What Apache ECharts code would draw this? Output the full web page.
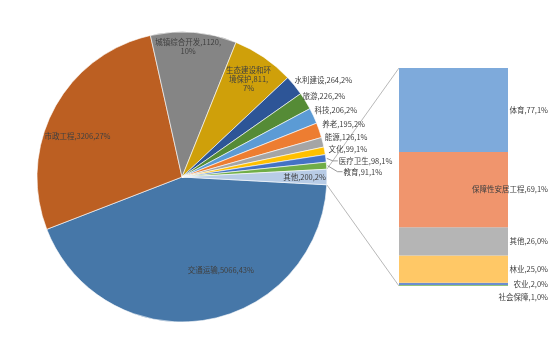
<!DOCTYPE html>
<html><head><meta charset="utf-8">
<script src="https://cdn.jsdelivr.net/npm/echarts@6/dist/echarts.min.js"></script>
<style>html,body{margin:0;padding:0;background:#fff}#c{width:550px;height:356px}</style>
</head><body><div id="c"></div>
<script>
// ---- data ----
const pieNames = ['交通运输','市政工程','城镇综合开发','生态建设和环境保护','水利建设','旅游','科技','养老','能源','文化','医疗卫生','教育','其他'];
const pieValues = [5066,3206,1120,811,264,226,206,195,126,99,98,91,200];
const subNames = ['社会保障','农业','林业','其他','保障性安居工程','体育'];
const subValues = [1,2,25,26,69,77];

// ---- style ----
const pieColors = ['#4677A8','#BC5F22','#858585','#CFA00A','#2D5597','#558B36','#5B9BD5','#ED7D31','#A5A5A5','#FFC000','#4472C4','#70AD47','#B8CCE6'];
const subColors = ['#93C47D','#6C8ED0','#FFC866','#B5B5B5','#F0956D','#7EAADB'];
const insideIdx = [0,1,2,3,12];
const labelOffsets = [[27,19],[-38,-5],[0,-55],[24,-35],[0,-5],[-3,-5],[1,-6],[3,-6],[2,-5],[4,-2],[13,2.5],[17,6],[47,0]];
const leaderIdx = [10,11];
const labelBreaks = {2:[12],3:[6,14]};
const cx = 182, cy = 177, R = 145;
const FONT = '"Noto Sans CJK SC","Noto Sans",sans-serif';
const TXT = '#404040';

const total = pieValues.reduce((a,b)=>a+b,0);
const subTotal = subValues.reduce((a,b)=>a+b,0);
const otherAngle = pieValues[pieValues.length-1]/total*360;
const startAngle = -otherAngle/2;

function pieLabel(i){
  const pct = Math.round(pieValues[i]/total*100);
  let s = pieNames[i]+','+pieValues[i]+','+pct+'%';
  const br = labelBreaks[i];
  if (br) for (let k=br.length-1;k>=0;k--) s = s.slice(0,br[k])+'\n'+s.slice(br[k]);
  return s;
}

const pieData = pieNames.map((n,i)=>{
  const inside = insideIdx.indexOf(i) >= 0;
  return {
    name: n, value: pieValues[i],
    itemStyle: {color: pieColors[i]},
    label: {
      position: inside ? 'inside' : 'outside',
      formatter: pieLabel(i),
      offset: labelOffsets[i],
      align: inside ? 'center' : 'left'
    },
    labelLine: {show:false, length:0, length2:0}
  };
});

const chart = echarts.init(document.getElementById('c'), null, {renderer:'canvas'});

const barSeries = subNames.map((n,i)=>({
  type:'bar', name:n, stack:'s', barWidth:'100%',
  data:[subValues[i]],
  itemStyle:{color: subColors[i]},
  label:{
    show:true, position:[149,'50%'], align:'right', verticalAlign:'middle',
    offset: n==='社会保障' ? [0,12] : [0,0],
    fontFamily: FONT, fontSize:7.5, color: TXT,
    formatter: n+','+subValues[i]+','+Math.round(subValues[i]/total*100)+'%'
  },
  silent:true, animation:false
}));

chart.setOption({
  animation:false,
  backgroundColor:'#fff',
  grid:{left:399, right:42, top:68, bottom:70},
  xAxis:{type:'category', data:['其他'], show:false},
  yAxis:{type:'value', min:0, max:subTotal, show:false},
  series:[{
    type:'pie', center:[cx,cy], radius:R,
    clockwise:true, startAngle:startAngle,
    avoidLabelOverlap:false, minShowLabelAngle:0,
    labelLayout:{hideOverlap:false},
    itemStyle:{borderColor:'#fff', borderWidth:0.6},
    label:{show:true, fontFamily:FONT, fontSize:7.5, color:TXT, lineHeight:9, distanceToLabelLine:0},
    labelLine:{length:0, length2:0},
    emphasis:{disabled:true},
    data: pieData, animation:false
  }].concat(barSeries)
});

// connector lines from the "其他" slice edges to the stacked bar corners
const rect = chart.getModel().getComponent('grid',0).coordinateSystem.getRect();
const half = otherAngle/2*Math.PI/180;
const yTop = chart.convertToPixel({yAxisIndex:0}, subTotal);
const yBot = chart.convertToPixel({yAxisIndex:0}, 0);
const ex = cx + R*Math.cos(half), eyT = cy - R*Math.sin(half), eyB = cy + R*Math.sin(half);
const graphics = [
  {type:'line', shape:{x1:ex,y1:eyT,x2:rect.x,y2:yTop}, style:{stroke:'#A6A6A6', lineWidth:0.8}, silent:true},
  {type:'line', shape:{x1:ex,y1:eyB,x2:rect.x,y2:yBot}, style:{stroke:'#A6A6A6', lineWidth:0.8}, silent:true}
];
// leader lines for the two labels that sit away from their slices
let cum = 0;
pieValues.forEach((v,i)=>{
  const mid = (startAngle - (cum + v/2)/total*360)*Math.PI/180;
  cum += v;
  if (leaderIdx.indexOf(i) < 0) return;
  const px = cx + R*Math.cos(mid), py = cy - R*Math.sin(mid);
  const lx = px + labelOffsets[i][0], ly = py + labelOffsets[i][1];
  graphics.push({type:'polyline', shape:{points:[[px+1,py],[lx-6,ly],[lx-1,ly]]},
    style:{stroke:'#7F7F7F', lineWidth:0.8, fill:null}, silent:true, z:10});
});
chart.setOption({graphic:graphics});
</script>
</body></html>
